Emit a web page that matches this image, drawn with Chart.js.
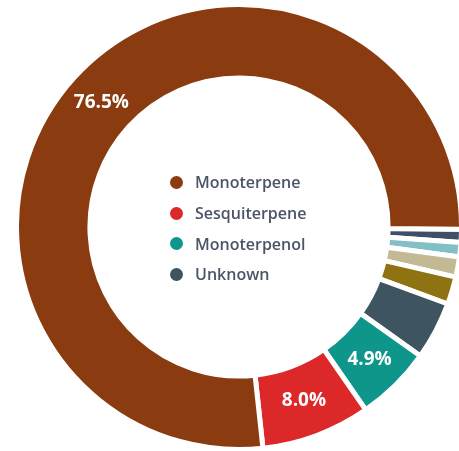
<!DOCTYPE html>
<html>
<head>
<meta charset="utf-8">
<script src="https://cdn.jsdelivr.net/npm/chart.js@4/dist/chart.umd.min.js"></script>
<style>
  html, body { margin: 0; padding: 0; background: #fff; overflow: hidden; }
  body { width: 459px; height: 451px; position: relative; font-family: "Open Sans", sans-serif; }
  #wrap { position: absolute; left: 14px; top: 2px; width: 450px; height: 450px; }
  #legend { position: absolute; left: 170px; top: 167px; }
  .item { height: 30.7px; display: flex; align-items: center; font-size: 16px; font-weight: 600; color: #4a5568; }
  .dot { width: 13px; height: 13px; border-radius: 50%; margin-right: 12px; }
</style>
</head>
<body>
<div id="wrap"><canvas id="donut"></canvas></div>
<div id="legend"></div>
<script>
// categories in legend order, minor unnamed slices last
const categories = ["Monoterpene", "Sesquiterpene", "Monoterpenol", "Unknown", "Other A", "Other B", "Other C", "Other D"];
const shares = [76.6, 7.9, 5.5, 4.2, 2.0, 1.45, 1.05, 0.95];
const shareLabels = ["76.5%", "8.0%", "4.9%", "", "", "", "", ""];
const colors = ["#8a3b0f", "#dc2828", "#0e968a", "#3e5561", "#8f7312", "#c3b995", "#82c0c6", "#3f4f66"];
const legendCount = 4;

// legend in the hole of the doughnut
const legend = document.getElementById("legend");
categories.slice(0, legendCount).forEach((name, i) => {
  const row = document.createElement("div");
  row.className = "item";
  row.innerHTML = '<span class="dot" style="background:' + colors[i] + '"></span>' + name;
  legend.appendChild(row);
});

// chart draws clockwise, the picture runs the other way, so reverse
const order = categories.map((_, i) => i).reverse();

const sliceLabelPlugin = {
  id: "sliceLabels",
  afterDatasetsDraw(chart) {
    const ctx = chart.ctx;
    const meta = chart.getDatasetMeta(0);
    ctx.save();
    ctx.font = "bold 19px 'Open Sans'";
    ctx.fillStyle = "#fff";
    ctx.textAlign = "center";
    ctx.textBaseline = "middle";
    meta.data.forEach((arc, i) => {
      const text = shareLabels[order[i]];
      if (!text) return;
      const p = arc.tooltipPosition();
      ctx.fillText(text, p.x, p.y);
    });
    ctx.restore();
  },
};

const ctx = document.getElementById("donut").getContext("2d");
const chart = new Chart(ctx, {
  type: "doughnut",
  data: {
    labels: order.map((i) => categories[i]),
    datasets: [
      {
        data: order.map((i) => shares[i]),
        backgroundColor: order.map((i) => colors[i]),
        borderColor: "#fff",
        borderWidth: 5,
        hoverOffset: 0,
      },
    ],
  },
  options: {
    responsive: true,
    maintainAspectRatio: false,
    animation: false,
    rotation: 90.55,
    cutout: "67%",
    layout: { padding: 0 },
    plugins: {
      legend: { display: false },
      tooltip: { enabled: false },
    },
  },
  plugins: [sliceLabelPlugin],
});
</script>
</body>
</html>
